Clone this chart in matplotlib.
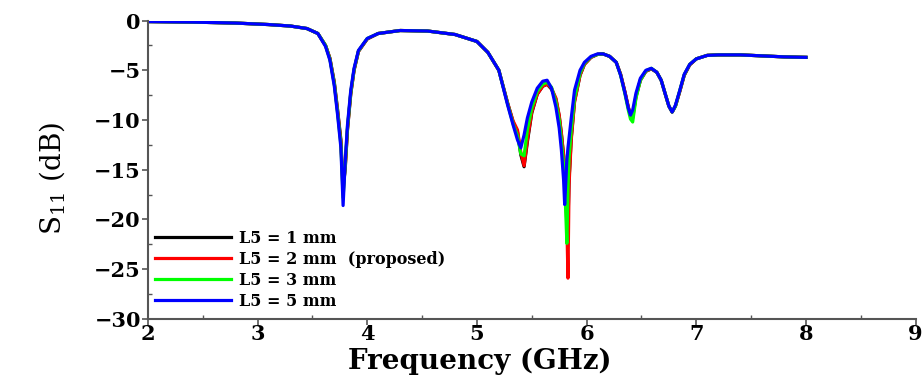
# S11 vs frequency for different L5 values
import numpy as np
import matplotlib
matplotlib.use('Agg')
import matplotlib.pyplot as plt
from matplotlib.ticker import MultipleLocator

plt.rcParams['font.family'] = ['DejaVu Serif']
plt.rcParams['mathtext.fontset'] = 'dejavuserif'

# frequency grid (GHz)
freq = [2.0, 2.4, 2.8, 3.1, 3.3, 3.45, 3.55, 3.62, 3.66, 3.70, 3.73, 3.76, 3.78,
        3.80, 3.82, 3.85, 3.88, 3.92, 4.0, 4.1, 4.3, 4.55, 4.8, 5.0, 5.1, 5.2,
        5.28, 5.33, 5.37, 5.40, 5.43, 5.46, 5.50, 5.55, 5.60, 5.64, 5.68,
        5.72, 5.75, 5.77, 5.79, 5.80, 5.82, 5.83, 5.84, 5.86, 5.89, 5.94,
        5.98, 6.04, 6.10, 6.15, 6.21, 6.27, 6.31, 6.35, 6.38, 6.40, 6.42,
        6.45, 6.49, 6.54, 6.59, 6.64, 6.68, 6.72, 6.75, 6.78, 6.81, 6.85,
        6.89, 6.94, 7.0, 7.1, 7.2, 7.4, 7.6, 7.8, 8.0]

# S11 (dB) for each L5
s11_1mm = [-0.1, -0.15, -0.25, -0.4, -0.55, -0.8, -1.3, -2.5, -3.8, -6.2, -9.0, -12.0, -16.8,
           -14.8, -11.0, -7.4, -5.0, -3.1, -1.85, -1.3, -1.0, -1.05, -1.4, -2.1, -3.2, -5.0,
           -8.3, -10.2, -11.2, -13.5, -14.7, -12.2, -9.3, -7.4, -6.6, -6.4, -6.9,
           -7.9, -9.6, -11.4, -13.6, -15.5, -19.0, -20.5, -16.0, -11.8, -8.1, -5.5,
           -4.4, -3.7, -3.4, -3.35, -3.6, -4.2, -5.4, -7.2, -8.7, -9.5, -9.6,
           -7.6, -6.0, -5.1, -4.85, -5.2, -6.0, -7.5, -8.6, -9.2, -8.6, -7.1,
           -5.5, -4.45, -3.85, -3.5, -3.45, -3.45, -3.55, -3.65, -3.7]

s11_2mm = [-0.1, -0.15, -0.25, -0.4, -0.55, -0.8, -1.3, -2.5, -3.8, -6.3, -9.1, -12.2, -17.3,
           -14.6, -10.9, -7.3, -5.0, -3.1, -1.85, -1.3, -1.0, -1.05, -1.4, -2.1, -3.2, -5.0,
           -8.3, -10.1, -11.0, -13.2, -14.6, -12.0, -9.2, -7.4, -6.6, -6.4, -6.8,
           -7.8, -9.5, -11.3, -13.5, -15.3, -20.5, -25.9, -16.5, -12.0, -8.2, -5.5,
           -4.4, -3.7, -3.4, -3.35, -3.6, -4.2, -5.4, -7.2, -8.7, -9.6, -9.8,
           -7.7, -6.0, -5.1, -4.85, -5.2, -6.0, -7.5, -8.6, -9.2, -8.6, -7.1,
           -5.5, -4.45, -3.85, -3.5, -3.45, -3.45, -3.55, -3.65, -3.7]

s11_3mm = [-0.1, -0.15, -0.25, -0.4, -0.55, -0.8, -1.3, -2.5, -3.9, -6.4, -9.3, -12.5, -17.8,
           -14.3, -10.7, -7.2, -4.9, -3.05, -1.8, -1.3, -1.0, -1.05, -1.4, -2.1, -3.2, -5.0,
           -8.4, -10.4, -11.6, -13.4, -13.6, -11.0, -8.8, -7.1, -6.4, -6.2, -6.7,
           -8.2, -10.0, -12.0, -14.5, -16.3, -22.4, -17.0, -13.8, -11.0, -7.8, -5.3,
           -4.3, -3.65, -3.4, -3.35, -3.6, -4.2, -5.5, -7.4, -9.0, -9.9, -10.2,
           -7.8, -6.0, -5.05, -4.8, -5.2, -6.0, -7.5, -8.6, -9.2, -8.6, -7.0,
           -5.45, -4.4, -3.85, -3.5, -3.45, -3.45, -3.55, -3.65, -3.7]

s11_5mm = [-0.1, -0.15, -0.25, -0.4, -0.55, -0.8, -1.3, -2.6, -4.0, -6.6, -9.5, -12.8, -18.6,
           -14.0, -10.5, -7.0, -4.8, -3.0, -1.8, -1.3, -1.0, -1.05, -1.4, -2.1, -3.2, -5.0,
           -8.5, -10.5, -12.0, -12.8, -11.5, -9.8, -8.2, -6.8, -6.1, -6.0, -6.8,
           -8.7, -10.8, -13.0, -16.0, -18.5, -14.0, -12.8, -11.8, -9.8, -7.0, -5.0,
           -4.2, -3.6, -3.35, -3.35, -3.6, -4.2, -5.5, -7.3, -8.8, -9.5, -9.0,
           -7.3, -5.8, -5.0, -4.8, -5.2, -6.0, -7.5, -8.6, -9.2, -8.5, -7.0,
           -5.4, -4.4, -3.85, -3.5, -3.45, -3.45, -3.55, -3.65, -3.7]

labels = ['L5 = 1 mm', 'L5 = 2 mm  (proposed)', 'L5 = 3 mm', 'L5 = 5 mm']
colors = ['black', '#ff0000', '#00ff00', '#0000ff']

fig = plt.figure(figsize=(9.24, 3.81), dpi=100)
ax = fig.add_axes([0.160, 0.163, 0.831, 0.783])

for y, lab, c in zip([s11_1mm, s11_2mm, s11_3mm, s11_5mm], labels, colors):
    ax.plot(freq, y, color=c, linewidth=2.3, label=lab)

ax.set_xlim(2, 9)
ax.set_ylim(-30, 0)
ax.xaxis.set_major_locator(MultipleLocator(1))
ax.xaxis.set_minor_locator(MultipleLocator(0.5))
ax.yaxis.set_major_locator(MultipleLocator(5))
ax.yaxis.set_minor_locator(MultipleLocator(2.5))

for s in ['top', 'right']:
    ax.spines[s].set_visible(False)
for s in ['left', 'bottom']:
    ax.spines[s].set_color('#555555')
    ax.spines[s].set_linewidth(1.5)

ax.tick_params(which='major', direction='out', length=4, width=1.2, color='#555555',
               labelsize=15, pad=1)
ax.tick_params(axis='x', which='major', pad=0)
ax.tick_params(which='minor', direction='in', length=3, width=1.0, color='#555555')
for t in ax.get_xticklabels() + ax.get_yticklabels():
    t.set_fontweight('bold')

ax.set_xlabel('Frequency (GHz)', fontsize=20, fontweight='bold')
ax.xaxis.set_label_coords(0.432, -0.098)
ax.set_ylabel('S$_{11}$ (dB)', fontsize=20)
ax.yaxis.set_label_coords(-0.105, 0.47)

leg = ax.legend(loc='lower left', bbox_to_anchor=(0.009, 0.03), frameon=False,
                prop={'size': 11.5, 'weight': 'bold'}, handlelength=4.8,
                handletextpad=0.5, labelspacing=0.25, borderpad=0, borderaxespad=0)

plt.savefig('out.png', dpi=100)
